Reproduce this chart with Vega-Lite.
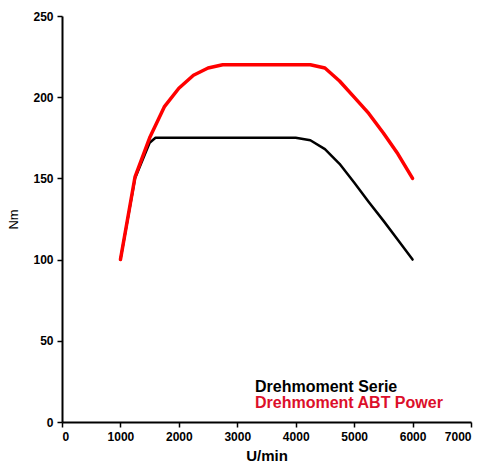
{
  "$schema": "https://vega.github.io/schema/vega-lite/v6.json",
  "width": 409,
  "height": 406,
  "autosize": {"type": "none"},
  "padding": {"left": 62, "top": 16, "right": 15, "bottom": 46},
  "background": "white",
  "config": {
    "view": {"stroke": null},
    "font": "Liberation Sans"
  },
  "data": {
    "values": [
      {"rpm": 1000, "nm": 100, "series": "Drehmoment Serie"},
      {"rpm": 1250, "nm": 150, "series": "Drehmoment Serie"},
      {"rpm": 1500, "nm": 172, "series": "Drehmoment Serie"},
      {"rpm": 1600, "nm": 175, "series": "Drehmoment Serie"},
      {"rpm": 1750, "nm": 175, "series": "Drehmoment Serie"},
      {"rpm": 2000, "nm": 175, "series": "Drehmoment Serie"},
      {"rpm": 2500, "nm": 175, "series": "Drehmoment Serie"},
      {"rpm": 3000, "nm": 175, "series": "Drehmoment Serie"},
      {"rpm": 3500, "nm": 175, "series": "Drehmoment Serie"},
      {"rpm": 4000, "nm": 175, "series": "Drehmoment Serie"},
      {"rpm": 4250, "nm": 173.5, "series": "Drehmoment Serie"},
      {"rpm": 4500, "nm": 168, "series": "Drehmoment Serie"},
      {"rpm": 4750, "nm": 159, "series": "Drehmoment Serie"},
      {"rpm": 5000, "nm": 147.5, "series": "Drehmoment Serie"},
      {"rpm": 5250, "nm": 135.5, "series": "Drehmoment Serie"},
      {"rpm": 5500, "nm": 124, "series": "Drehmoment Serie"},
      {"rpm": 5750, "nm": 112, "series": "Drehmoment Serie"},
      {"rpm": 6000, "nm": 100, "series": "Drehmoment Serie"},
      {"rpm": 1000, "nm": 100, "series": "Drehmoment ABT Power"},
      {"rpm": 1250, "nm": 151, "series": "Drehmoment ABT Power"},
      {"rpm": 1500, "nm": 175, "series": "Drehmoment ABT Power"},
      {"rpm": 1750, "nm": 194, "series": "Drehmoment ABT Power"},
      {"rpm": 2000, "nm": 205.5, "series": "Drehmoment ABT Power"},
      {"rpm": 2250, "nm": 213.5, "series": "Drehmoment ABT Power"},
      {"rpm": 2500, "nm": 218, "series": "Drehmoment ABT Power"},
      {"rpm": 2750, "nm": 220, "series": "Drehmoment ABT Power"},
      {"rpm": 3000, "nm": 220, "series": "Drehmoment ABT Power"},
      {"rpm": 3500, "nm": 220, "series": "Drehmoment ABT Power"},
      {"rpm": 4000, "nm": 220, "series": "Drehmoment ABT Power"},
      {"rpm": 4250, "nm": 220, "series": "Drehmoment ABT Power"},
      {"rpm": 4500, "nm": 218, "series": "Drehmoment ABT Power"},
      {"rpm": 4750, "nm": 210, "series": "Drehmoment ABT Power"},
      {"rpm": 5000, "nm": 200, "series": "Drehmoment ABT Power"},
      {"rpm": 5250, "nm": 190, "series": "Drehmoment ABT Power"},
      {"rpm": 5500, "nm": 178, "series": "Drehmoment ABT Power"},
      {"rpm": 5750, "nm": 165, "series": "Drehmoment ABT Power"},
      {"rpm": 6000, "nm": 150, "series": "Drehmoment ABT Power"}
    ]
  },
  "mark": {"type": "line", "strokeJoin": "round", "strokeCap": "round"},
  "encoding": {
    "x": {
      "field": "rpm", "type": "quantitative",
      "scale": {"domain": [0, 7000], "nice": false},
      "axis": {
        "title": "U/min", "values": [0,1000,2000,3000,4000,5000,6000,7000], "format": "d",
        "grid": false, "domainColor": "black", "domainWidth": 2,
        "tickColor": "black", "tickWidth": 1.5, "tickSize": 5,
        "labelFont": "Liberation Sans", "labelFontWeight": "bold", "labelFontSize": 12, "labelColor": "black", "labelPadding": 4,
        "titleFont": "Liberation Sans", "titleFontWeight": "bold", "titleFontSize": 15, "titleColor": "black", "titlePadding": 6
      }
    },
    "y": {
      "field": "nm", "type": "quantitative",
      "scale": {"domain": [0, 250], "nice": false},
      "axis": {
        "title": "Nm", "values": [0,50,100,150,200,250], "format": "d",
        "grid": false, "domainColor": "black", "domainWidth": 2,
        "tickColor": "black", "tickWidth": 1.5, "tickSize": 5,
        "labelFont": "Liberation Sans", "labelFontWeight": "bold", "labelFontSize": 12, "labelColor": "black", "labelPadding": 4,
        "titleFont": "Liberation Sans", "titleFontWeight": "normal", "titleFontSize": 13, "titleColor": "black", "titlePadding": 12
      }
    },
    "color": {
      "field": "series", "type": "nominal",
      "scale": {"domain": ["Drehmoment Serie", "Drehmoment ABT Power"], "range": ["black", "#ff0000"]},
      "legend": {
        "title": null, "orient": "none", "legendX": 177, "legendY": 363,
        "symbolSize": 0, "symbolOpacity": 0, "symbolStrokeWidth": 0, "labelOffset": 0,
        "labelFont": "Liberation Sans", "labelFontWeight": "bold", "labelFontSize": 16, "labelLimit": 400,
        "rowPadding": 0,
        "encode": {"labels": {"update": {"fill": {"signal": "datum.label == 'Drehmoment Serie' ? 'black' : '#dc0f2a'"}}}}
      }
    },
    "strokeWidth": {
      "field": "series", "type": "nominal",
      "scale": {"domain": ["Drehmoment Serie", "Drehmoment ABT Power"], "range": [2.5, 3.5]},
      "legend": null
    },
    "order": {"field": "rpm", "type": "quantitative"}
  }
}
